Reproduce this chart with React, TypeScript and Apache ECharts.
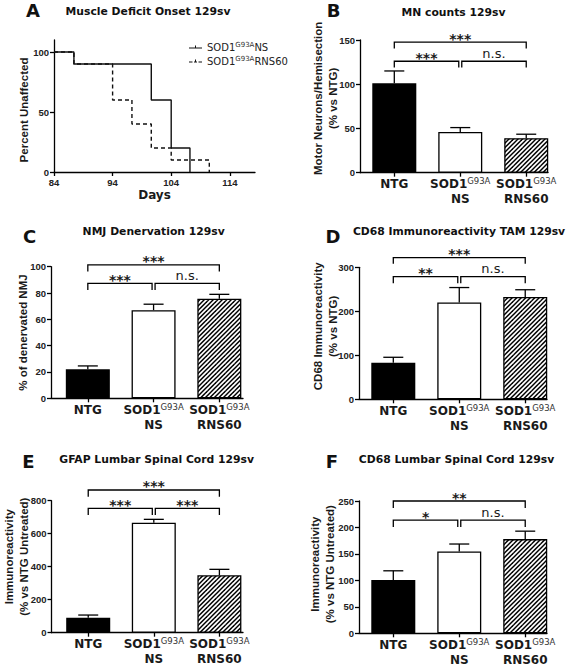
import React, { useEffect, useRef } from 'react';
import * as echarts from 'echarts';

// ---------- data ----------
const GROUPS = ['NTG', 'NS', 'RNS60'];

// A: Muscle deficit onset (percent unaffected vs days)
const DAY_TICKS = [84, 94, 104, 114];
const PCT_TICKS = [0, 50, 100];
const ONSET_NS = [[84, 100], [87.4, 90], [100.6, 60], [104, 20], [107.2, 0]];
const ONSET_RNS60 = [[84, 100], [87.4, 90], [94, 60], [97.3, 40], [100.6, 20], [104, 10], [110.5, 0]];

// B: MN counts
const MN_MEAN = [101, 46, 39];
const MN_SEM = [14, 5, 4.5];
const MN_TICKS = [0, 50, 100, 150];
const MN_SIG = [[0, 2, 147.5, 140.5, '***'], [0, 1, 126, 119, '***'], [1, 2, 126, 119, 'n.s.']];

// C: NMJ denervation
const NMJ_MEAN = [22, 67, 75.7];
const NMJ_SEM = [2.6, 4.5, 3.3];
const NMJ_TICKS = [0, 20, 40, 60, 80, 100];
const NMJ_SIG = [[0, 2, 101.4, 96.3, '***'], [0, 1, 87.4, 82.3, '***'], [1, 2, 87.4, 82.3, 'n.s.']];

// D: CD68 TAM
const TAM_MEAN = [83, 220, 232.5];
const TAM_SEM = [12.5, 34, 16.5];
const TAM_TICKS = [0, 100, 200, 300];
const TAM_SIG = [[0, 2, 322, 308, '***'], [0, 1, 279, 264, '**'], [1, 2, 279, 264, 'n.s.']];

// E: GFAP lumbar
const GFAP_MEAN = [91, 667, 348];
const GFAP_SEM = [16, 20, 36];
const GFAP_TICKS = [0, 200, 400, 600, 800];
const GFAP_SIG = [[0, 2, 865, 824, '***'], [0, 1, 753, 713, '***'], [1, 2, 753, 713, '***']];

// F: CD68 lumbar
const CD68_MEAN = [100.6, 154.7, 178];
const CD68_SEM = [17.5, 14, 15];
const CD68_TICKS = [0, 50, 100, 150, 200, 250];
const CD68_SIG = [[0, 2, 250, 237, '**'], [0, 1, 214, 201, '*'], [1, 2, 214, 201, 'n.s.']];

// ---------- styling ----------
const BOLD = 'DejaVu Sans';
const ROT = 'Liberation Sans';
const AX = { color: '#000', width: 1.3 };

function makeHatch() {
  const T = 9;
  const c = document.createElement('canvas');
  c.width = T;
  c.height = T;
  const g = c.getContext('2d')!;
  g.fillStyle = '#fff';
  g.fillRect(0, 0, T, T);
  g.strokeStyle = '#000';
  g.lineWidth = 1.5;
  for (const k of [0, 4.5, 9, 13.5, 18]) {
    g.beginPath();
    g.moveTo(k - 20, 20);
    g.lineTo(k + 20, -20);
    g.stroke();
  }
  return { image: c, repeat: 'repeat', imageWidth: T, imageHeight: T };
}

const catFormatter = (v: number) => {
  const g = GROUPS[Math.round(v)];
  return g === 'NTG' ? '{b|NTG}' : '{b|SOD1}{s|G93A}\n{b|' + g + '}';
};

function yNameStyle(shift: number) {
  // positive shift moves the rotated name upward
  const pad = shift >= 0 ? [0, 0, 0, 2 * shift] : [0, -2 * shift, 0, 0];
  return { fontFamily: ROT, fontWeight: 'bold', fontSize: 11.5, lineHeight: 15, color: '#1a1a1a', padding: pad };
}

function tickLabel() {
  return { fontFamily: ROT, fontWeight: 'bold', fontSize: 9.5, color: '#222', margin: 5 };
}

export default function App() {
  const ref = useRef<HTMLDivElement>(null);

  useEffect(() => {
    if (!ref.current) return;
    const chart = echarts.init(ref.current, null, { renderer: 'svg' });
    const hatch = makeHatch();

    const panels = [
      { name: 'Motor Neurons/Hemisection\n(% vs NTG)', gap: 19.5, shift: 8, mean: MN_MEAN, sem: MN_SEM, ticks: MN_TICKS, sig: MN_SIG, grid: { left: 360, top: 40, width: 188, height: 132.7 }, xr: [-0.52, 2.33] },
      { name: '% of denervated NMJ', gap: 21, shift: 0, mean: NMJ_MEAN, sem: NMJ_SEM, ticks: NMJ_TICKS, sig: NMJ_SIG, grid: { left: 51, top: 266.7, width: 192, height: 131.6 }, xr: [-0.56, 2.36] },
      { name: 'CD68 Immunoreactivity\n(% vs NTG)', gap: 18.5, shift: 7, mean: TAM_MEAN, sem: TAM_SEM, ticks: TAM_TICKS, sig: TAM_SIG, grid: { left: 359, top: 267.3, width: 188, height: 132 }, xr: [-0.52, 2.33] },
      { name: 'Immunoreactivity\n(% vs NTG Untreated)', gap: 20.5, shift: 10, mean: GFAP_MEAN, sem: GFAP_SEM, ticks: GFAP_TICKS, sig: GFAP_SIG, grid: { left: 51, top: 500.7, width: 192, height: 132 }, xr: [-0.56, 2.36] },
      { name: 'Immunoreactivity\n(% vs NTG Untreated)', gap: 22, shift: 3, mean: CD68_MEAN, sem: CD68_SEM, ticks: CD68_TICKS, sig: CD68_SIG, grid: { left: 359, top: 501, width: 188, height: 132.3 }, xr: [-0.52, 2.33] },
    ];

    const grids: any[] = [{ left: 54, top: 40, width: 201, height: 132 }];
    const xAxes: any[] = [
      {
        gridIndex: 0, type: 'value', min: 84, max: 118.3,
        axisLine: { show: true, onZero: false, lineStyle: AX },
        axisTick: { show: true, customValues: DAY_TICKS, length: 4, lineStyle: AX },
        axisLabel: { ...tickLabel(), customValues: DAY_TICKS },
        splitLine: { show: false },
        name: 'Days', nameLocation: 'middle', nameGap: 17,
        nameTextStyle: { fontFamily: BOLD, fontWeight: 'bold', fontSize: 12, color: '#1a1a1a' },
      },
    ];
    const yAxes: any[] = [
      {
        gridIndex: 0, type: 'value', min: 0, max: 110,
        axisLine: { show: true, onZero: false, lineStyle: AX },
        axisTick: { show: true, customValues: PCT_TICKS, length: 4, lineStyle: AX },
        axisLabel: { ...tickLabel(), customValues: PCT_TICKS },
        splitLine: { show: false },
        name: 'Percent Unaffected', nameLocation: 'middle', nameRotate: 90, nameGap: 22.5, nameMoveOverlap: false,
        nameTextStyle: yNameStyle(-4),
      },
    ];
    const series: any[] = [
      {
        name: 'RNS60', type: 'line', xAxisIndex: 0, yAxisIndex: 0, step: 'end', showSymbol: false, symbol: 'none',
        data: ONSET_RNS60, color: '#111', lineStyle: { color: '#111', width: 1.4, type: [4, 3] }, z: 2,
      },
      {
        name: 'NS', type: 'line', xAxisIndex: 0, yAxisIndex: 0, step: 'end', showSymbol: false, symbol: 'none',
        data: ONSET_NS, color: '#111', lineStyle: { color: '#111', width: 1.4 }, z: 3,
      },
    ];

    panels.forEach((p, idx) => {
      const i = idx + 1;
      grids.push(p.grid);
      xAxes.push({
        gridIndex: i, type: 'value', min: p.xr[0], max: p.xr[1],
        axisLine: { show: true, onZero: false, lineStyle: AX },
        axisTick: { show: true, customValues: [0, 1, 2], length: 4, lineStyle: AX },
        axisLabel: {
          customValues: [0, 1, 2], margin: 4, formatter: catFormatter,
          rich: {
            b: { fontFamily: BOLD, fontWeight: 'bold', fontSize: 12, lineHeight: 15, color: '#1a1a1a' },
            s: { fontFamily: BOLD, fontSize: 8.5, lineHeight: 15, color: '#333', verticalAlign: 'top', padding: [0, 0, 4, 0] },
          },
        },
        splitLine: { show: false },
      });
      yAxes.push({
        gridIndex: i, type: 'value', min: 0, max: p.ticks[p.ticks.length - 1],
        axisLine: { show: true, onZero: false, lineStyle: AX },
        axisTick: { show: true, customValues: p.ticks, length: 4, lineStyle: AX },
        axisLabel: { ...tickLabel(), customValues: p.ticks },
        splitLine: { show: false },
        name: p.name, nameLocation: 'middle', nameRotate: 90, nameGap: p.gap, nameMoveOverlap: false,
        nameTextStyle: yNameStyle(p.shift),
      });
      const fills = [{ color: '#000' }, { color: '#fff' }, { color: hatch }];
      series.push({
        type: 'bar', xAxisIndex: i, yAxisIndex: i, barWidth: 44, silent: true, z: 2,
        data: p.mean.map((m, k) => ({ value: [k, m], itemStyle: { ...fills[k], borderColor: '#000', borderWidth: 1.3 } })),
      });
      series.push({
        type: 'custom', xAxisIndex: i, yAxisIndex: i, silent: true, z: 3, clip: false,
        data: p.mean.map((m, k) => [k, m, m + p.sem[k]]),
        encode: { x: 0, y: [1, 2] },
        renderItem: (params: any, api: any) => {
          const p0 = api.coord([api.value(0), api.value(1)]);
          const p1 = api.coord([api.value(0), api.value(2)]);
          const h = 10;
          return {
            type: 'group',
            children: [
              { type: 'line', shape: { x1: p0[0], y1: p0[1], x2: p1[0], y2: p1[1] }, style: { stroke: '#000', lineWidth: 1.3 } },
              { type: 'line', shape: { x1: p1[0] - h, y1: p1[1], x2: p1[0] + h, y2: p1[1] }, style: { stroke: '#000', lineWidth: 1.3 } },
            ],
          };
        },
      });
      const sig = p.sig;
      series.push({
        type: 'custom', xAxisIndex: i, yAxisIndex: i, silent: true, z: 4, clip: false,
        data: sig.map((s) => [s[0], s[1], s[2], s[3]]),
        encode: { x: [0, 1], y: [2, 3] },
        renderItem: (params: any, api: any) => {
          const s = sig[params.dataIndex] as any[];
          const from = s[0] as number, to = s[1] as number;
          const yl = api.coord([0, s[2]])[1];
          const yd = api.coord([0, s[3]])[1];
          let xa = api.coord([from, 0])[0];
          let xb = api.coord([to, 0])[0];
          if (from === 1) xa += 1.5;
          if (to === 1) xb -= 1.5;
          const label = s[4] as string;
          const ns = label === 'n.s.';
          return {
            type: 'group',
            children: [
              { type: 'polyline', shape: { points: [[xa, yd], [xa, yl], [xb, yl], [xb, yd]] }, style: { stroke: '#000', lineWidth: 1.3, fill: null } },
              {
                type: 'text', x: (xa + xb) / 2, y: ns ? yl - 8 : yl - 3.5,
                style: {
                  text: label, fill: '#1a1a1a', fontFamily: BOLD,
                  fontWeight: ns ? 'normal' : 'bold', fontSize: ns ? 13 : 14,
                  align: 'center', verticalAlign: 'middle', textAlign: 'center', textVerticalAlign: 'middle',
                },
              },
            ],
          };
        },
      });
    });

    const txt = (text: string, x: number, y: number, size: number) => ({
      type: 'text', x, y, silent: true,
      style: {
        text, fill: '#111', fontFamily: BOLD, fontWeight: 'bold', fontSize: size,
        align: 'center', verticalAlign: 'middle', textAlign: 'center', textVerticalAlign: 'middle',
      },
    });

    const graphic = [
      txt('A', 33, 10, 18), txt('Muscle Deficit Onset 129sv', 148, 11, 10.8),
      txt('B', 333.5, 10, 18), txt('MN counts 129sv', 453.5, 12.7, 10.8),
      txt('C', 29.5, 236, 18), txt('NMJ Denervation 129sv', 153.7, 231, 10.8),
      txt('D', 333, 236, 18), txt('CD68 Immunoreactivity TAM 129sv', 459, 231.7, 10.8),
      txt('E', 28.3, 461.7, 18), txt('GFAP Lumbar Spinal Cord 129sv', 156.7, 459.3, 10.8),
      txt('F', 332, 461.7, 18), txt('CD68 Lumbar Spinal Cord 129sv', 456.5, 459, 10.8),
    ];

    chart.setOption({
      animation: false,
      backgroundColor: '#fff',
      textStyle: { fontFamily: BOLD },
      grid: grids,
      xAxis: xAxes,
      yAxis: yAxes,
      legend: {
        orient: 'vertical', left: 184, top: 36, itemWidth: 13, itemHeight: 6, itemGap: 3,
        selectedMode: false,
        data: [
          { name: 'NS', icon: 'path://M0,4h26v1.6h-26z M12,0h2v5h-2z' },
          { name: 'RNS60', icon: 'path://M0,4h7v1.6h-7z M10,4h6v1.6h-6z M19,4h7v1.6h-7z M12,0h2v4h-2z' },
        ],
        formatter: (n: string) => '{a|SOD1}{s|G93A}{a|' + n + '}',
        textStyle: {
          color: '#222',
          rich: {
            a: { fontFamily: BOLD, fontSize: 10, lineHeight: 12, color: '#222' },
            s: { fontFamily: BOLD, fontSize: 7, lineHeight: 12, color: '#333', verticalAlign: 'top' },
          },
        },
      },
      graphic,
      series,
    });

    return () => chart.dispose();
  }, []);

  return <div ref={ref} style={{ position: 'absolute', left: 0, top: 0, width: 567, height: 667, background: '#fff' }} />;
}
